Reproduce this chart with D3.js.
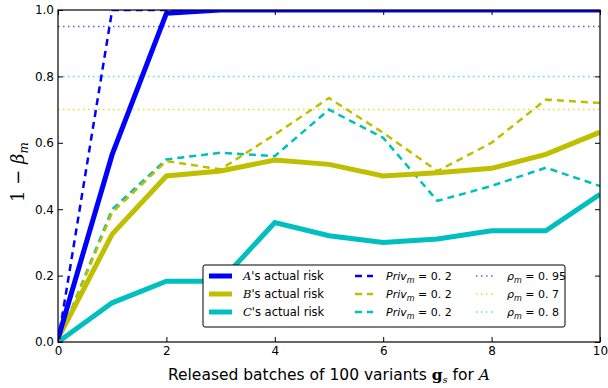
<!DOCTYPE html>
<html>
<head>
<meta charset="utf-8">
<script src="https://cdn.jsdelivr.net/npm/d3@7"></script>
<style>
body { margin: 0; background: #fff; }
text { font-family: "DejaVu Sans", sans-serif; }
.math { font-family: "DejaVu Serif", serif; font-style: italic; }
</style>
</head>
<body>
<div id="chart"></div>
<script>
let W = 608, H = 388;
let margin = {left: 58, right: 8, top: 10, bottom: 46};

let batches = [0, 1, 2, 3, 4, 5, 6, 7, 8, 9, 10];
let aActual = [0.01, 0.565, 0.99, 1.0, 1.0, 1.0, 1.0, 1.0, 1.0, 1.0, 1.0];
let aPriv = [0.0, 1.0, 1.0, 1.0, 1.0, 1.0, 1.0, 1.0, 1.0, 1.0, 1.0];
let bActual = [0.01, 0.325, 0.5, 0.515, 0.548, 0.535, 0.5, 0.51, 0.523, 0.565, 0.632];
let bPriv = [0.0, 0.39, 0.545, 0.52, 0.625, 0.735, 0.63, 0.515, 0.6, 0.73, 0.72];
let cActual = [0.0, 0.118, 0.183, 0.183, 0.36, 0.32, 0.3, 0.31, 0.335, 0.335, 0.445];
let cPriv = [0.0, 0.4, 0.55, 0.57, 0.56, 0.7, 0.615, 0.425, 0.47, 0.525, 0.47];
let rhoLevels = [0.95, 0.7, 0.8];
let colors = ["#0000ff", "#bfbf00", "#00bfbf"];
let rhoColors = ["#5555ee", "#dddd33", "#55dddd"];
let names = ["A", "B", "C"];
let rhoLabels = ["0.95", "0.7", "0.8"];
let xTicks = [0, 2, 4, 6, 8, 10];
let yTicks = [0, 0.2, 0.4, 0.6, 0.8, 1.0];

let svg = d3.select("#chart").append("svg").attr("width", W).attr("height", H);

let x = d3.scaleLinear().domain([0, 10]).range([margin.left, W - margin.right]);
let y = d3.scaleLinear().domain([0, 1]).range([H - margin.bottom, margin.top]);

svg.append("clipPath").attr("id", "clip").append("rect")
  .attr("x", margin.left).attr("y", margin.top)
  .attr("width", W - margin.left - margin.right)
  .attr("height", H - margin.top - margin.bottom);

let plot = svg.append("g").attr("clip-path", "url(#clip)");

// reference levels
rhoLevels.forEach((r, i) => {
  plot.append("line")
    .attr("x1", x(0)).attr("x2", x(10))
    .attr("y1", y(r)).attr("y2", y(r))
    .attr("stroke", rhoColors[i]).attr("stroke-width", 1.5)
    .attr("stroke-dasharray", "1.5,3.5");
});

let line = d3.line().x((d, i) => x(batches[i])).y(d => y(d));

let privSeries = [aPriv, bPriv, cPriv];
let actualSeries = [aActual, bActual, cActual];

// draw in reverse order so A on top
[2, 1, 0].forEach(i => {
  plot.append("path").datum(privSeries[i])
    .attr("d", line).attr("fill", "none")
    .attr("stroke", colors[i]).attr("stroke-width", 2.5)
    .attr("stroke-dasharray", "7,5");
});
[2, 1, 0].forEach(i => {
  plot.append("path").datum(actualSeries[i])
    .attr("d", line).attr("fill", "none")
    .attr("stroke", colors[i]).attr("stroke-width", 5);
});

// axes frame
svg.append("rect")
  .attr("x", margin.left).attr("y", margin.top)
  .attr("width", W - margin.left - margin.right)
  .attr("height", H - margin.top - margin.bottom)
  .attr("fill", "none").attr("stroke", "#000").attr("stroke-width", 1.2);

let xAxis = svg.append("g").attr("transform", "translate(0," + (H - margin.bottom) + ")")
  .call(d3.axisBottom(x).tickValues(xTicks).tickSizeInner(-5).tickSizeOuter(0).tickPadding(4).tickFormat(d3.format("d")));
xAxis.select(".domain").remove();
xAxis.selectAll("text").attr("font-size", "12px").attr("font-family", "DejaVu Sans");

let xAxisTop = svg.append("g").attr("transform", "translate(0," + margin.top + ")")
  .call(d3.axisTop(x).tickValues(xTicks).tickSizeInner(-5).tickSizeOuter(0).tickFormat(""));
xAxisTop.select(".domain").remove();

let yAxis = svg.append("g").attr("transform", "translate(" + margin.left + ",0)")
  .call(d3.axisLeft(y).tickValues(yTicks).tickSizeInner(-5).tickSizeOuter(0).tickPadding(4).tickFormat(d3.format(".1f")));
yAxis.select(".domain").remove();
yAxis.selectAll("text").attr("font-size", "12px").attr("font-family", "DejaVu Sans");

let yAxisRight = svg.append("g").attr("transform", "translate(" + (W - margin.right) + ",0)")
  .call(d3.axisRight(y).tickValues(yTicks).tickSizeInner(-5).tickSizeOuter(0).tickFormat(""));
yAxisRight.select(".domain").remove();

// x label
let xl = svg.append("text")
  .attr("x", (margin.left + W - margin.right) / 2).attr("y", H - 8)
  .attr("text-anchor", "middle").attr("font-size", "15.5px");
xl.append("tspan").text("Released batches of 100 variants ");
xl.append("tspan").attr("font-family", "DejaVu Serif").attr("font-weight", "bold").text("g");
xl.append("tspan").attr("class", "math").attr("font-size", "10px").attr("dy", 3).text("s");
xl.append("tspan").attr("dy", -3).text(" for ");
xl.append("tspan").attr("class", "math").text("A");

// y label
let yl = svg.append("text")
  .attr("transform", "translate(24," + ((margin.top + H - margin.bottom) / 2 - 4) + ") rotate(-90)")
  .attr("text-anchor", "middle").attr("font-size", "18px");
yl.append("tspan").attr("font-family", "DejaVu Serif").text("1 \u2212 ");
yl.append("tspan").attr("class", "math").text("\u03b2");
yl.append("tspan").attr("class", "math").attr("font-size", "12px").attr("dy", 4).text("m");

// legend
let lg = svg.append("g");
lg.append("rect").attr("x", 203).attr("y", 265).attr("width", 362).attr("height", 62)
  .attr("fill", "#fff").attr("stroke", "#000").attr("stroke-width", 1).attr("rx", 2);

let rowY = [276, 294, 312];
names.forEach((n, i) => {
  let ry = rowY[i];
  lg.append("line").attr("x1", 209).attr("x2", 232).attr("y1", ry).attr("y2", ry)
    .attr("stroke", colors[i]).attr("stroke-width", 5);
  let t = lg.append("text").attr("x", 243).attr("y", ry + 4).attr("font-size", "11.5px");
  t.append("tspan").attr("class", "math").text(n);
  t.append("tspan").text("'s actual risk");

  lg.append("line").attr("x1", 355).attr("x2", 373).attr("y1", ry).attr("y2", ry)
    .attr("stroke", colors[i]).attr("stroke-width", 2.5).attr("stroke-dasharray", "7,5");
  let p = lg.append("text").attr("x", 386).attr("y", ry + 4).attr("font-size", "11px")
    .attr("font-family", "DejaVu Serif");
  p.append("tspan").attr("font-style", "italic").text("Priv");
  p.append("tspan").attr("font-style", "italic").attr("font-size", "8px").attr("dy", 3).text("m");
  p.append("tspan").attr("dy", -3).text(" = 0. 2");

  lg.append("line").attr("x1", 476).attr("x2", 494).attr("y1", ry).attr("y2", ry)
    .attr("stroke", rhoColors[i]).attr("stroke-width", 1.5).attr("stroke-dasharray", "1.5,3.5");
  let r = lg.append("text").attr("x", 507).attr("y", ry + 4).attr("font-size", "11px")
    .attr("font-family", "DejaVu Serif");
  r.append("tspan").attr("font-style", "italic").text("\u03c1");
  r.append("tspan").attr("font-style", "italic").attr("font-size", "8px").attr("dy", 3).text("m");
  r.append("tspan").attr("dy", -3).text(" = " + rhoLabels[i].replace(".", ". "));
});
</script>
</body>
</html>
